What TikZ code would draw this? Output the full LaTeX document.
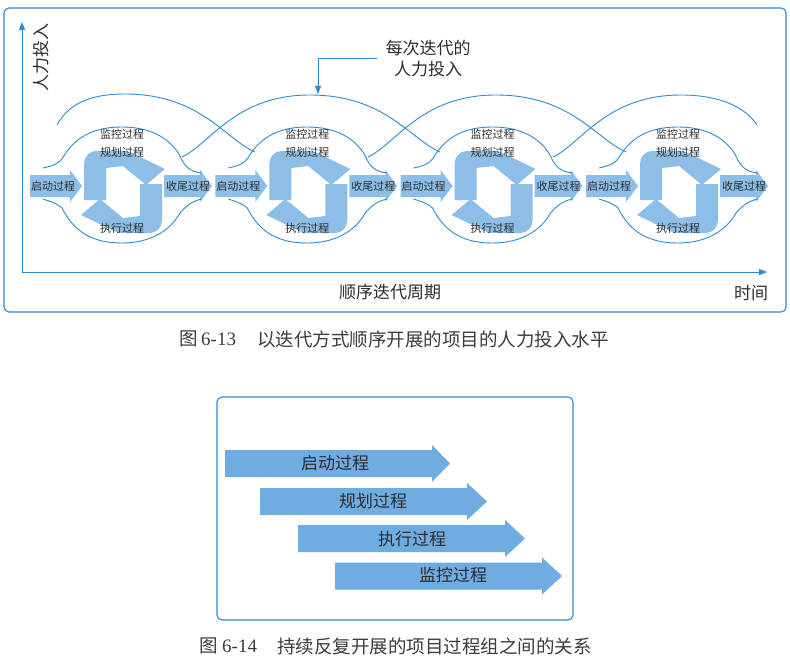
\documentclass[tikz,border=0pt]{standalone}
\usepackage{fontspec}
\setmainfont{Liberation Serif}
\newfontfamily\cjk{Noto Sans CJK SC}
\usetikzlibrary{arrows.meta}
\definecolor{lineblue}{RGB}{45,140,205}
\definecolor{sfill}{RGB}{140,190,232}
\definecolor{afill}{RGB}{110,172,226}
\definecolor{txt}{RGB}{45,45,45}
\definecolor{captxt}{RGB}{60,60,60}
\begin{document}
\begin{tikzpicture}[x=1pt,y=-1pt,
  outl/.style={draw=lineblue, line width=0.9pt},
  framebox/.style={draw=lineblue, line width=1.1pt, rounded corners=5pt},
  axisline/.style={draw=lineblue, line width=1pt, -{Triangle[width=6pt,length=8pt]}},
  lbl/.style={inner sep=0pt, text=txt, font=\cjk\fontsize{11}{12}\selectfont},
  bigtext/.style={inner sep=0pt, text=txt, font=\cjk\fontsize{17}{21}\selectfont, align=center},
  captext/.style={inner sep=0pt, text=captxt, font=\cjk\fontsize{18.5}{20}\selectfont, anchor=west},
  capnum/.style={inner sep=0pt, text=captxt, font=\fontsize{19}{20}\selectfont, anchor=west},
  sfillstyle/.style={fill=sfill, draw=none},
  blockfill/.style={fill=afill, draw=none},
]
\useasboundingbox (0,0) rectangle (790,661);
\fill[white] (0,0) rectangle (790,661);

% ---------- figure 6-13 ----------
\draw[framebox] (4,8) rectangle (786,312);

% iteration units
\foreach \i/\cx in {1/120,2/305.3,3/490.6,4/676}{
  \begin{scope}[shift={(\cx,186)}]
    % start / closing block arrows
    \fill[sfillstyle] (-90,-11) -- (-50,-11) -- (-50,-16) -- (-38,0) -- (-50,16) -- (-50,11) -- (-90,11) -- cycle;
    \fill[sfillstyle] (44,-11) -- (80,-11) -- (80,-16) -- (92,0) -- (80,16) -- (80,11) -- (44,11) -- cycle;
    % S-shaped cycle arrows
    \begin{scope}[shift={(3,6)}]
      \fill[sfillstyle] (-39,8) -- (-39,-28) .. controls (-39,-35) and (-34,-41) .. (-27,-41)
        -- (0,-41) .. controls (6,-41) and (9,-39) .. (13,-37)
        -- (42,-23) -- (23,-7) -- (0,-26) -- (-17,-24) -- (-17,8) -- cycle;
      \fill[sfillstyle] (39,-8) -- (39,28) .. controls (39,35) and (34,41) .. (27,41)
        -- (0,41) .. controls (-6,41) and (-9,39) .. (-13,37)
        -- (-42,23) -- (-23,7) -- (0,26) -- (17,24) -- (17,-8) -- cycle;
    \end{scope}
    % outline
    \draw[outl] (-77,-18) .. controls (-68,-20) and (-62,-22) .. (-58,-27)
      .. controls (-45,-50) and (-25,-59) .. (2,-59)
      .. controls (30,-59) and (50,-48) .. (60,-30)
      .. controls (64,-20) and (70,-14) .. (82,-13);
    \draw[outl] (-77,13) .. controls (-68,16) and (-62,18) .. (-58,22)
      .. controls (-45,48) and (-25,57) .. (2,57)
      .. controls (30,57) and (50,45) .. (60,27)
      .. controls (66,20) and (72,15) .. (82,13);
    % labels
    \node[lbl] (start\i) at (-67,0) {启动过程};
    \node[lbl] (close\i) at (68,0) {收尾过程};
    \node[lbl] (mon\i) at (2,-52) {监控过程};
    \node[lbl] (plan\i) at (2,-34) {规划过程};
    \node[lbl] (exec\i) at (2,42) {执行过程};
  \end{scope}
}

% effort arcs
\draw[outl] (57,125) .. controls (68,105) and (88,94) .. (125,94)
  .. controls (200,94) and (225,139) .. (255,152);
\draw[outl] (182,157) .. controls (210,144) and (235,95) .. (310,95)
  .. controls (385,95) and (410,139) .. (440,152);
\draw[outl] (368,157) .. controls (396,144) and (421,95) .. (496,95)
  .. controls (571,95) and (596,139) .. (626,152);
\draw[outl] (553,157) .. controls (581,144) and (606,95) .. (681,95)
  .. controls (721,95) and (746,108) .. (757,125);

% callout
\node[bigtext] (callout) at (428,58.5) {每次迭代的\\人力投入};
\coordinate (arctop) at (318,94);
\draw[draw=lineblue, line width=0.9pt, -{Triangle[width=6pt,length=8pt]}]
  ([xshift=-8pt]callout.west) -| (arctop);

% axes
\coordinate (O) at (22,272);
\coordinate (Ytop) at (22,22);
\coordinate (Xend) at (767,272);
\draw[axisline] (O) -- (Ytop);
\draw[axisline] (O) -- (Xend);
\node[bigtext, rotate=90] (ylabel) at (41,58) {人力投入};
\node[bigtext] (xlabel) at (390,292) {顺序迭代周期};
\node[bigtext] (tlabel) at (751,293) {时间};

% caption 1
\node[captext] (c1a) at (179,339) {图};
\node[capnum] (c1b) at (201,339.5) {6-13};
\node[captext] (c1c) at (257,339) {以迭代方式顺序开展的项目的人力投入水平};

% ---------- figure 6-14 ----------
\draw[framebox] (217,397) rectangle (573,620);
\fill[blockfill] (225,450) -- (432,450) -- (432,445) -- (450,463.5) -- (432,482) -- (432,477) -- (225,477) -- cycle;
\fill[blockfill] (260,488) -- (467,488) -- (467,483) -- (487,501.5) -- (467,520) -- (467,515) -- (260,515) -- cycle;
\fill[blockfill] (298,525) -- (505,525) -- (505,520) -- (525,538.5) -- (505,557) -- (505,552) -- (298,552) -- cycle;
\fill[blockfill] (335,562.5) -- (542,562.5) -- (542,557.5) -- (562,576) -- (542,594.5) -- (542,589.5) -- (335,589.5) -- cycle;
\node[bigtext] (b1) at (335,463) {启动过程};
\node[bigtext] (b2) at (373,501) {规划过程};
\node[bigtext] (b3) at (412,539) {执行过程};
\node[bigtext] (b4) at (453,575) {监控过程};

% caption 2
\node[captext] (c2a) at (199,646) {图};
\node[capnum] (c2b) at (222,646.5) {6-14};
\node[captext] (c2c) at (277,646) {持续反复开展的项目过程组之间的关系};
\end{tikzpicture}
\end{document}
